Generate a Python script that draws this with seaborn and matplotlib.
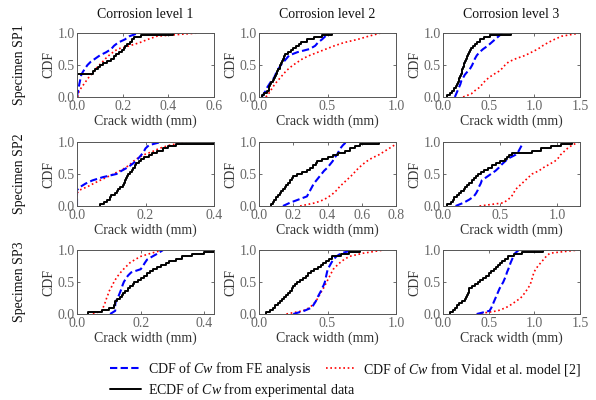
import matplotlib
matplotlib.use("Agg")
import matplotlib.pyplot as plt
from matplotlib.lines import Line2D
from matplotlib.ticker import FormatStrFormatter
import seaborn as sns

# CDF levels at which the model curves (FE / Vidal) were read
P = [0, 0.05, 0.1, 0.15, 0.2, 0.25, 0.3, 0.35, 0.4, 0.45, 0.5,
     0.55, 0.6, 0.65, 0.7, 0.75, 0.8, 0.85, 0.9, 0.95, 1.0]

# ---------- Specimen SP1 ----------
sp1_l1_exp = [0, 0, 0, 0, 0, 0, 0, 0, 0, 0, 0, 0.072, 0.08, 0.09, 0.10, 0.115, 0.13, 0.15,
              0.16, 0.17, 0.185, 0.195, 0.205, 0.21, 0.22, 0.23, 0.24, 0.25, 0.28, 0.42]
sp1_l1_fe = [0.0, 0.002, 0.005, 0.008, 0.01, 0.013, 0.016, 0.019, 0.027, 0.036, 0.046,
             0.06, 0.08, 0.10, 0.128, 0.15, 0.162, 0.18, 0.21, 0.23, 0.27]
sp1_l1_vidal = [0.003, 0.006, 0.01, 0.02, 0.03, 0.04, 0.05, 0.062, 0.074, 0.085, 0.098,
                0.112, 0.125, 0.14, 0.158, 0.178, 0.23, 0.275, 0.31, 0.35, 0.53]

sp1_l2_exp = [0.02, 0.04, 0.06, 0.07, 0.075, 0.08, 0.09, 0.10, 0.11, 0.115, 0.125, 0.13,
              0.14, 0.15, 0.155, 0.16, 0.17, 0.175, 0.185, 0.19, 0.21, 0.23, 0.25, 0.27,
              0.29, 0.31, 0.35, 0.40, 0.46, 0.53]
sp1_l2_fe = [0.02, 0.035, 0.05, 0.06, 0.075, 0.09, 0.11, 0.12, 0.13, 0.145, 0.16,
             0.18, 0.20, 0.22, 0.28, 0.37, 0.41, 0.43, 0.46, 0.485, 0.51]
sp1_l2_vidal = [0.05, 0.07, 0.085, 0.10, 0.115, 0.135, 0.155, 0.175, 0.195, 0.22, 0.25,
                0.285, 0.32, 0.37, 0.43, 0.49, 0.55, 0.62, 0.72, 0.80, 0.89]

sp1_l3_exp = [0.04, 0.08, 0.10, 0.12, 0.14, 0.15, 0.16, 0.17, 0.18, 0.19, 0.20, 0.205,
              0.21, 0.22, 0.225, 0.235, 0.245, 0.255, 0.265, 0.275, 0.285, 0.30, 0.31,
              0.33, 0.35, 0.37, 0.40, 0.45, 0.51, 0.74]
sp1_l3_fe = [0.13, 0.145, 0.16, 0.175, 0.19, 0.20, 0.22, 0.24, 0.27, 0.30, 0.32,
             0.335, 0.35, 0.37, 0.40, 0.44, 0.49, 0.53, 0.57, 0.61, 0.65]
sp1_l3_vidal = [0.22, 0.31, 0.35, 0.40, 0.43, 0.46, 0.50, 0.55, 0.61, 0.65, 0.68,
                0.72, 0.80, 0.90, 0.97, 1.04, 1.09, 1.15, 1.22, 1.30, 1.50]

# ---------- Specimen SP2 ----------
sp2_l1_exp = [0.067, 0.08, 0.087, 0.095, 0.10, 0.11, 0.116, 0.12, 0.125, 0.135, 0.137,
              0.14, 0.142, 0.145, 0.15, 0.155, 0.16, 0.164, 0.168, 0.172, 0.18, 0.186,
              0.195, 0.21, 0.22, 0.235, 0.25, 0.265, 0.29, 0.40]
sp2_l1_fe = [0, 0, 0, 0, 0, 0, 0.01, 0.025, 0.045, 0.075, 0.115,
             0.13, 0.147, 0.16, 0.172, 0.18, 0.188, 0.195, 0.20, 0.21, 0.245]
sp2_l1_vidal = [0, 0, 0, 0, 0, 0.008, 0.03, 0.048, 0.067, 0.087, 0.106,
                0.125, 0.142, 0.155, 0.165, 0.178, 0.195, 0.22, 0.24, 0.27, 0.32]

sp2_l2_exp = [0.07, 0.08, 0.09, 0.10, 0.11, 0.12, 0.13, 0.14, 0.15, 0.16, 0.17, 0.18,
              0.19, 0.20, 0.22, 0.25, 0.28, 0.30, 0.315, 0.33, 0.34, 0.37, 0.40, 0.43,
              0.46, 0.50, 0.53, 0.56, 0.59, 0.70]
sp2_l2_fe = [0.14, 0.18, 0.23, 0.28, 0.29, 0.30, 0.31, 0.32, 0.335, 0.35, 0.365,
             0.38, 0.40, 0.415, 0.43, 0.44, 0.455, 0.465, 0.475, 0.49, 0.51]
sp2_l2_vidal = [0.24, 0.33, 0.38, 0.41, 0.435, 0.455, 0.47, 0.49, 0.51, 0.53, 0.55,
                0.565, 0.585, 0.605, 0.63, 0.66, 0.70, 0.73, 0.76, 0.79, 0.81]

sp2_l3_exp = [0.035, 0.07, 0.09, 0.10, 0.12, 0.14, 0.16, 0.18, 0.19, 0.21, 0.23, 0.25,
              0.27, 0.29, 0.31, 0.33, 0.36, 0.39, 0.43, 0.46, 0.50, 0.54, 0.56, 0.58,
              0.60, 0.78, 0.86, 0.95, 1.03, 1.13]
sp2_l3_fe = [0.11, 0.18, 0.23, 0.27, 0.29, 0.305, 0.315, 0.33, 0.34, 0.38, 0.42,
             0.46, 0.49, 0.515, 0.545, 0.58, 0.635, 0.66, 0.675, 0.69, 0.70]
sp2_l3_vidal = [0.32, 0.53, 0.57, 0.60, 0.62, 0.63, 0.66, 0.69, 0.72, 0.75, 0.78,
                0.84, 0.88, 0.93, 0.98, 1.01, 1.03, 1.06, 1.09, 1.13, 1.19]

# ---------- Specimen SP3 ----------
sp3_l1_exp = [0.036, 0.08, 0.10, 0.115, 0.12, 0.12, 0.125, 0.135, 0.14, 0.145, 0.15,
              0.16, 0.165, 0.175, 0.18, 0.19, 0.20, 0.21, 0.22, 0.23, 0.24, 0.25,
              0.265, 0.28, 0.29, 0.31, 0.33, 0.36, 0.40, 0.43]
sp3_l1_fe = [0.104, 0.12, 0.12, 0.12, 0.122, 0.128, 0.132, 0.136, 0.14, 0.143, 0.147,
             0.153, 0.16, 0.17, 0.20, 0.207, 0.213, 0.22, 0.237, 0.255, 0.27]
sp3_l1_vidal = [0.05, 0.078, 0.082, 0.086, 0.09, 0.093, 0.097, 0.10, 0.106, 0.111, 0.116,
                0.122, 0.129, 0.137, 0.146, 0.156, 0.166, 0.182, 0.20, 0.233, 0.27]

sp3_l2_exp = [0.05, 0.08, 0.10, 0.12, 0.14, 0.155, 0.17, 0.18, 0.195, 0.21, 0.225, 0.24,
              0.25, 0.26, 0.28, 0.30, 0.32, 0.34, 0.36, 0.38, 0.40, 0.43, 0.45, 0.47,
              0.49, 0.51, 0.53, 0.60, 0.66, 0.74]
sp3_l2_fe = [0.25, 0.33, 0.385, 0.40, 0.415, 0.425, 0.437, 0.45, 0.46, 0.472, 0.481,
             0.486, 0.491, 0.496, 0.502, 0.515, 0.528, 0.542, 0.565, 0.60, 0.69]
sp3_l2_vidal = [0.20, 0.32, 0.37, 0.395, 0.415, 0.43, 0.443, 0.456, 0.47, 0.482, 0.494,
                0.506, 0.518, 0.53, 0.542, 0.565, 0.59, 0.62, 0.66, 0.76, 0.91]

sp3_l3_exp = [0.08, 0.11, 0.13, 0.15, 0.18, 0.21, 0.24, 0.25, 0.26, 0.27, 0.28, 0.29,
              0.32, 0.35, 0.38, 0.41, 0.44, 0.47, 0.50, 0.53, 0.56, 0.58, 0.60, 0.62,
              0.65, 0.68, 0.71, 0.78, 0.86, 1.10]
sp3_l3_fe = [0.37, 0.51, 0.53, 0.545, 0.56, 0.575, 0.59, 0.605, 0.62, 0.64, 0.66,
             0.675, 0.69, 0.70, 0.715, 0.728, 0.74, 0.755, 0.77, 0.79, 0.83]
sp3_l3_vidal = [0.37, 0.60, 0.69, 0.75, 0.80, 0.85, 0.88, 0.905, 0.93, 0.95, 0.965,
                0.975, 0.985, 0.995, 1.015, 1.04, 1.07, 1.10, 1.13, 1.17, 1.48]

# axis settings per panel
xlims = [[0.6, 1.0, 1.5], [0.4, 0.8, 1.2], [0.43, 1.0, 1.5]]
xtick_sets = [[[0, 0.2, 0.4, 0.6], [0, 0.5, 1.0], [0, 0.5, 1.0, 1.5]],
              [[0, 0.2, 0.4], [0, 0.2, 0.4, 0.6, 0.8], [0, 0.5, 1.0]],
              [[0, 0.2, 0.4], [0, 0.5, 1.0], [0, 0.5, 1.0, 1.5]]]
col_titles = ["Corrosion level 1", "Corrosion level 2", "Corrosion level 3"]
row_titles = ["Specimen SP1", "Specimen SP2", "Specimen SP3"]
lbl_fe = "CDF of $\\mathit{Cw}$ from FE analysis"
lbl_vidal = "CDF of $\\mathit{Cw}$ from Vidal et al. model [2]"
lbl_exp = "ECDF of $\\mathit{Cw}$ from experimental data"

exp_data = [[sp1_l1_exp, sp1_l2_exp, sp1_l3_exp],
            [sp2_l1_exp, sp2_l2_exp, sp2_l3_exp],
            [sp3_l1_exp, sp3_l2_exp, sp3_l3_exp]]
fe_data = [[sp1_l1_fe, sp1_l2_fe, sp1_l3_fe],
           [sp2_l1_fe, sp2_l2_fe, sp2_l3_fe],
           [sp3_l1_fe, sp3_l2_fe, sp3_l3_fe]]
vidal_data = [[sp1_l1_vidal, sp1_l2_vidal, sp1_l3_vidal],
              [sp2_l1_vidal, sp2_l2_vidal, sp2_l3_vidal],
              [sp3_l1_vidal, sp3_l2_vidal, sp3_l3_vidal]]

sns.set_style("ticks")
plt.rcParams["font.family"] = ["Liberation Serif", "DejaVu Serif"]
plt.rcParams["mathtext.fontset"] = "custom"
plt.rcParams["mathtext.rm"] = "Liberation Serif"
plt.rcParams["mathtext.it"] = "Liberation Serif:italic"

W, H = 596, 400
fig = plt.figure(figsize=(W / 100, H / 100), dpi=100)
lefts = [77, 259, 443]
tops = [33, 142, 250]
aw, ah = 137, 64

spine_c = "#555555"
text_c = "#333333"
fe_style = dict(color="#0000ff", lw=1.5, linestyle=(0, (3.5, 1.6)))
vidal_style = dict(color="#ff0000", lw=1.2, linestyle=(0, (1, 1.6)))
exp_style = dict(color="black", lw=1.4)

for i in range(3):
    for j in range(3):
        ax = fig.add_axes([lefts[j] / W, 1 - (tops[i] + ah) / H, aw / W, ah / H])
        sns.lineplot(x=vidal_data[i][j], y=P, ax=ax, estimator=None, sort=False,
                     legend=False, **vidal_style)
        sns.lineplot(x=fe_data[i][j], y=P, ax=ax, estimator=None, sort=False,
                     legend=False, **fe_style)
        sns.ecdfplot(x=exp_data[i][j], ax=ax, **exp_style)
        ax.set_xlim(0, xlims[i][j])
        ax.set_ylim(0, 1)
        ax.set_xticks(xtick_sets[i][j])
        ax.set_yticks([0, 0.5, 1.0])
        ax.xaxis.set_major_formatter(FormatStrFormatter("%.1f"))
        ax.yaxis.set_major_formatter(FormatStrFormatter("%.1f"))
        ax.tick_params(direction="in", length=2.5, width=0.6, top=True, right=True,
                       labelsize=10, color=spine_c, labelcolor="#666666")
        ax.tick_params(axis="x", pad=2)
        ax.tick_params(axis="y", pad=1.5)
        for s in ax.spines.values():
            s.set_color(spine_c)
            s.set_linewidth(0.7)
        ax.set_xlabel("Crack width (mm)", fontsize=10, labelpad=1.5, color=text_c)
        ax.set_ylabel("CDF", fontsize=10, labelpad=2, color=text_c)

for j in range(3):
    fig.text((lefts[j] + aw / 2) / W, 1 - 15 / H, col_titles[j], ha="center",
             va="center", fontsize=10, color="#111111")
for i in range(3):
    fig.text(20 / W, 1 - (tops[i] + ah / 2) / H, row_titles[i], rotation=90,
             ha="center", va="center", fontsize=10, color="#111111")

h_fe = Line2D([], [], **fe_style)
h_vidal = Line2D([], [], **vidal_style)
h_exp = Line2D([], [], **exp_style)
leg_kw = dict(frameon=False, fontsize=10, handlelength=2.2, handletextpad=0.5,
              borderpad=0, borderaxespad=0, loc="center left", labelcolor="#111111")
fig.legend([h_fe, h_vidal], [lbl_fe, lbl_vidal], ncol=2, columnspacing=1.05,
           bbox_to_anchor=(110 / W, 1 - 369 / H), **leg_kw)
fig.legend([h_exp], [lbl_exp], bbox_to_anchor=(110 / W, 1 - 390 / H), **leg_kw)

fig.savefig("out.png", dpi=100)
